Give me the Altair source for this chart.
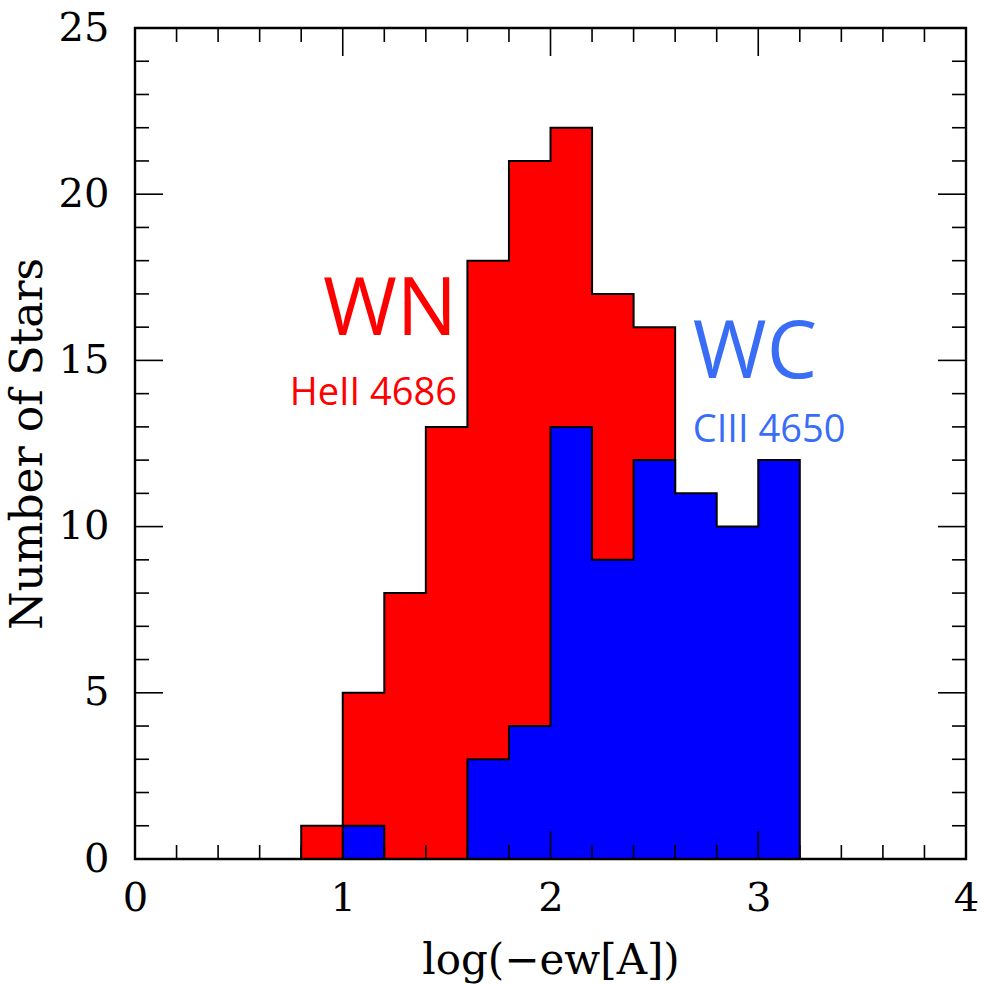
import altair as alt
import numpy as np
import pandas as pd

# Histogram bins (width 0.2 in log(-EW))
bin_width = 0.2
wn_start = 0.8
wn_counts = [1, 5, 8, 13, 18, 21, 22, 17, 16]          # WN stars, HeII 4686
wc_start = 1.0
wc_counts = [1, 0, 0, 3, 4, 13, 9, 12, 11, 10, 12]     # WC stars, CIII 4650

x_major = [0, 1, 2, 3, 4]
y_major = [0, 5, 10, 15, 20, 25]

W, H = 831, 831
SERIF = "DejaVu Serif"
SANS = "Open Sans"

xs = alt.Scale(domain=[0, 4], nice=False, zero=False)
ys = alt.Scale(domain=[0, 25], nice=False)

AX = alt.Axis(
    values=x_major, ticks=False, domain=False, grid=False, labelFlush=False,
    labelFont=SERIF, labelFontSize=40, labelColor="black",
    labelPadding=19, title="log(\u2212ew[A])", titleFont=SERIF,
    titleFontSize=42, titleFontWeight="normal", titleColor="black",
    titlePadding=22,
)
AY = alt.Axis(
    values=y_major, ticks=False, domain=False, grid=False, labelFlush=False,
    labelFont=SERIF, labelFontSize=40, labelColor="black",
    labelPadding=26, title="Number of Stars", titleFont=SERIF,
    titleFontSize=44, titleFontWeight="normal", titleColor="black",
    titlePadding=8,
)


def X(field="x"):
    return alt.X(f"{field}:Q", scale=xs, axis=AX)


def Y(field="y"):
    return alt.Y(f"{field}:Q", scale=ys, axis=AY, stack=None)


def edges(start, counts):
    return [round(start + i * bin_width, 3) for i in range(len(counts) + 1)]


def hist(start, counts, color):
    e = edges(start, counts)
    # filled region: one point per left edge plus the closing right edge
    fill_df = pd.DataFrame({"x": e, "y": list(counts) + [0]})
    # outline: starts and ends on the baseline
    line_df = pd.DataFrame({
        "x": [e[0]] + e,
        "y": [0] + list(counts) + [0],
        "i": list(range(len(e) + 1)),
    })
    area = alt.Chart(fill_df).mark_area(
        interpolate="step-after", color=color, opacity=1
    ).encode(x=X(), y=Y())
    line = alt.Chart(line_df).mark_line(
        interpolate="step-after", color="black", strokeWidth=2
    ).encode(x=X(), y=Y(), order="i:Q")
    return area + line


red = hist(wn_start, wn_counts, "#ff0000")
blue = hist(wc_start, wc_counts, "#0000ff")

# Tick marks pointing into the frame on all four sides
x_minor_vals = [float(v) for v in np.round(np.arange(0, 4.0001, 0.2), 2)
                if v not in x_major]
y_minor_vals = [v for v in range(0, 26) if v not in y_major]


def xticks(vals, length):
    b = alt.Chart(pd.DataFrame({"x": vals})).mark_rule(color="black", strokeWidth=1.6)
    bottom = b.encode(x=X(), y=alt.value(H), y2=alt.value(H - length))
    top = b.encode(x=X(), y=alt.value(0), y2=alt.value(length))
    return bottom + top


def yticks(vals, length):
    b = alt.Chart(pd.DataFrame({"y": vals})).mark_rule(color="black", strokeWidth=1.6)
    left = b.encode(y=Y(), x=alt.value(0), x2=alt.value(length))
    right = b.encode(y=Y(), x=alt.value(W), x2=alt.value(W - length))
    return left + right


ticks = (xticks(x_major, 28) + xticks(x_minor_vals, 14)
         + yticks(y_major, 28) + yticks(y_minor_vals, 14))

# Frame around the plot area
frame = alt.Chart(pd.DataFrame({"a": [0]})).mark_rect(
    fill=None, stroke="black", strokeWidth=2.4
).encode(x=alt.value(0), x2=alt.value(W), y=alt.value(0), y2=alt.value(H))

# Series labels
labels = pd.DataFrame({
    "x": [1.55, 1.55, 2.685, 2.685],
    "y": [15.76, 13.66, 14.47, 12.55],
    "t": ["WN", "HeII 4686", "WC", "CIII 4650"],
    "c": ["#ff0000", "#ff0000", "#3a6df5", "#3a6df5"],
    "s": [80, 38, 80, 38],
    "a": ["right", "right", "left", "left"],
})


def label(row):
    return alt.Chart(pd.DataFrame([row])).mark_text(
        font=SANS, fontSize=float(row["s"]), color=row["c"],
        align=row["a"], baseline="alphabetic",
    ).encode(x=X(), y=Y(), text="t:N")


text_layers = [label(r) for r in labels.to_dict("records")]

chart = alt.layer(red, blue, ticks, frame, *text_layers).properties(
    width=W, height=H,
    autosize=alt.AutoSizeParams(type="none"),
    padding={"left": 135, "top": 28, "right": 18, "bottom": 126},
).configure_view(stroke=None).configure(background="white")

chart.save("out.html", embed_options={"renderer": "svg", "actions": False})
